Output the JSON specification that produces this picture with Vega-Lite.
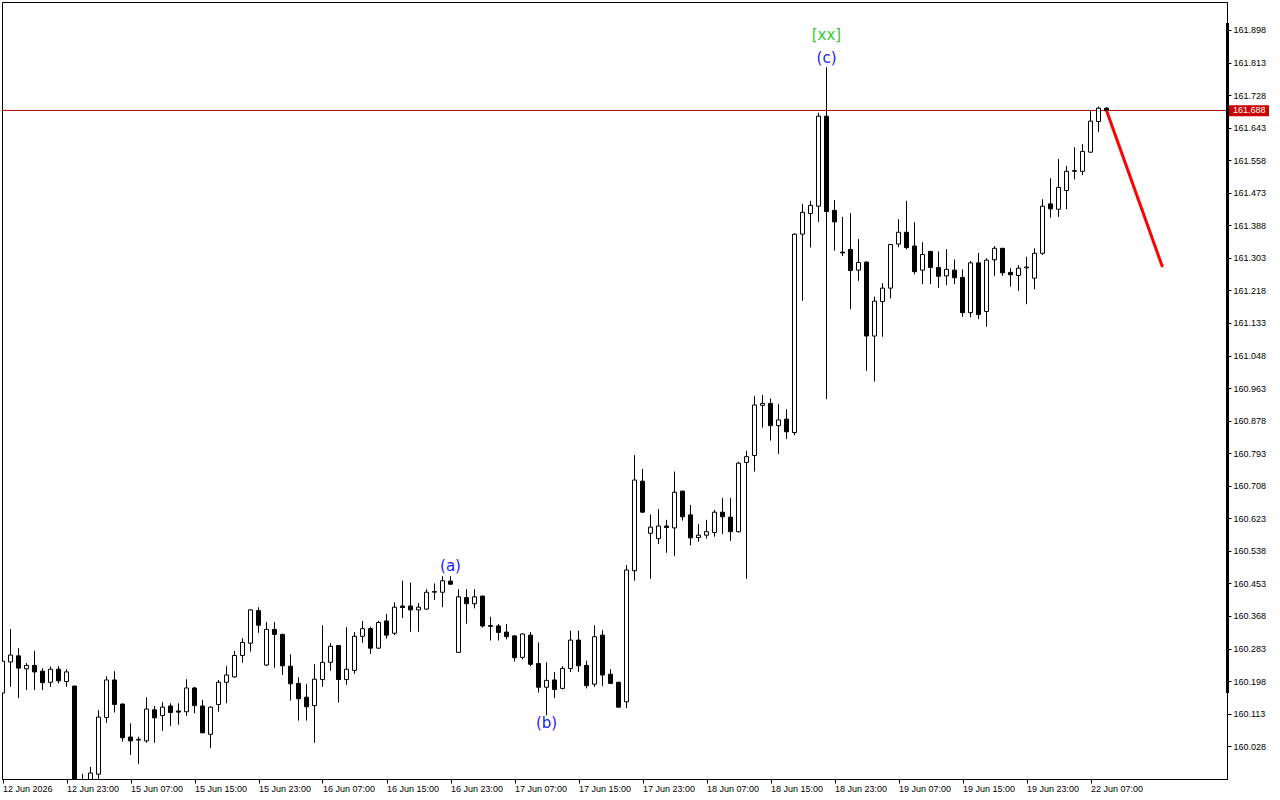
{
  "$schema": "https://vega.github.io/schema/vega-lite/v6.json",
  "width": 1225,
  "height": 777,
  "autosize": {"type": "none"},
  "padding": {"left": 2, "top": 2, "right": 53, "bottom": 21},
  "background": "white",
  "config": {
    "view": {"stroke": "black", "strokeWidth": 1},
    "axis": {"labelFont": "Liberation Sans", "labelFontSize": 9, "labelColor": "black", "tickColor": "black", "domainColor": "black", "grid": false, "labelOverlap": false, "labelFlush": false, "labelBound": false}
  },
  "datasets": {
    "bars": [
      {"i":0,"o":160.167,"h":160.252,"l":160.165,"c":160.250},
      {"i":1,"o":160.248,"h":160.334,"l":160.183,"c":160.266},
      {"i":2,"o":160.264,"h":160.284,"l":160.154,"c":160.232},
      {"i":3,"o":160.230,"h":160.245,"l":160.175,"c":160.239},
      {"i":4,"o":160.239,"h":160.277,"l":160.175,"c":160.222},
      {"i":5,"o":160.224,"h":160.232,"l":160.175,"c":160.194},
      {"i":6,"o":160.195,"h":160.236,"l":160.183,"c":160.229},
      {"i":7,"o":160.229,"h":160.237,"l":160.192,"c":160.199},
      {"i":8,"o":160.197,"h":160.229,"l":160.183,"c":160.222},
      {"i":9,"o":160.185,"h":160.186,"l":159.905,"c":159.915},
      {"i":10,"o":159.918,"h":159.956,"l":159.895,"c":159.925},
      {"i":11,"o":159.935,"h":159.974,"l":159.920,"c":159.958},
      {"i":12,"o":159.955,"h":160.122,"l":159.930,"c":160.104},
      {"i":13,"o":160.103,"h":160.211,"l":160.089,"c":160.201},
      {"i":14,"o":160.201,"h":160.224,"l":160.116,"c":160.137},
      {"i":15,"o":160.138,"h":160.140,"l":160.040,"c":160.050},
      {"i":16,"o":160.052,"h":160.088,"l":160.005,"c":160.042},
      {"i":17,"o":160.044,"h":160.053,"l":159.982,"c":160.046},
      {"i":18,"o":160.042,"h":160.156,"l":160.037,"c":160.125},
      {"i":19,"o":160.123,"h":160.133,"l":160.037,"c":160.102},
      {"i":20,"o":160.108,"h":160.143,"l":160.068,"c":160.130},
      {"i":21,"o":160.133,"h":160.140,"l":160.081,"c":160.116},
      {"i":22,"o":160.120,"h":160.140,"l":160.084,"c":160.117},
      {"i":23,"o":160.118,"h":160.203,"l":160.107,"c":160.180},
      {"i":24,"o":160.180,"h":160.183,"l":160.114,"c":160.134},
      {"i":25,"o":160.133,"h":160.149,"l":160.062,"c":160.063},
      {"i":26,"o":160.059,"h":160.132,"l":160.023,"c":160.130},
      {"i":27,"o":160.137,"h":160.201,"l":160.118,"c":160.195},
      {"i":28,"o":160.195,"h":160.237,"l":160.140,"c":160.214},
      {"i":29,"o":160.209,"h":160.277,"l":160.207,"c":160.265},
      {"i":30,"o":160.265,"h":160.310,"l":160.246,"c":160.299},
      {"i":31,"o":160.297,"h":160.386,"l":160.275,"c":160.384},
      {"i":32,"o":160.382,"h":160.391,"l":160.324,"c":160.344},
      {"i":33,"o":160.240,"h":160.352,"l":160.237,"c":160.333},
      {"i":34,"o":160.333,"h":160.352,"l":160.233,"c":160.320},
      {"i":35,"o":160.320,"h":160.322,"l":160.214,"c":160.238},
      {"i":36,"o":160.237,"h":160.268,"l":160.147,"c":160.191},
      {"i":37,"o":160.192,"h":160.208,"l":160.095,"c":160.152},
      {"i":38,"o":160.156,"h":160.190,"l":160.095,"c":160.131},
      {"i":39,"o":160.134,"h":160.242,"l":160.037,"c":160.203},
      {"i":40,"o":160.202,"h":160.344,"l":160.183,"c":160.247},
      {"i":41,"o":160.247,"h":160.297,"l":160.225,"c":160.289},
      {"i":42,"o":160.291,"h":160.292,"l":160.142,"c":160.202},
      {"i":43,"o":160.202,"h":160.339,"l":160.188,"c":160.229},
      {"i":44,"o":160.226,"h":160.326,"l":160.217,"c":160.315},
      {"i":45,"o":160.315,"h":160.355,"l":160.298,"c":160.335},
      {"i":46,"o":160.335,"h":160.340,"l":160.269,"c":160.284},
      {"i":47,"o":160.284,"h":160.355,"l":160.282,"c":160.351},
      {"i":48,"o":160.355,"h":160.373,"l":160.309,"c":160.318},
      {"i":49,"o":160.323,"h":160.404,"l":160.318,"c":160.391},
      {"i":50,"o":160.394,"h":160.460,"l":160.363,"c":160.390},
      {"i":51,"o":160.394,"h":160.455,"l":160.327,"c":160.384},
      {"i":52,"o":160.384,"h":160.402,"l":160.327,"c":160.391},
      {"i":53,"o":160.386,"h":160.438,"l":160.384,"c":160.430},
      {"i":54,"o":160.430,"h":160.453,"l":160.410,"c":160.432},
      {"i":55,"o":160.430,"h":160.472,"l":160.391,"c":160.460},
      {"i":56,"o":160.459,"h":160.472,"l":160.450,"c":160.451},
      {"i":57,"o":160.273,"h":160.438,"l":160.272,"c":160.418},
      {"i":58,"o":160.416,"h":160.438,"l":160.348,"c":160.400},
      {"i":59,"o":160.400,"h":160.438,"l":160.388,"c":160.418},
      {"i":60,"o":160.420,"h":160.421,"l":160.338,"c":160.342},
      {"i":61,"o":160.343,"h":160.366,"l":160.304,"c":160.341},
      {"i":62,"o":160.342,"h":160.347,"l":160.304,"c":160.325},
      {"i":63,"o":160.326,"h":160.347,"l":160.307,"c":160.314},
      {"i":64,"o":160.316,"h":160.318,"l":160.249,"c":160.259},
      {"i":65,"o":160.260,"h":160.323,"l":160.255,"c":160.321},
      {"i":66,"o":160.318,"h":160.326,"l":160.237,"c":160.242},
      {"i":67,"o":160.244,"h":160.299,"l":160.168,"c":160.182},
      {"i":68,"o":160.182,"h":160.247,"l":160.109,"c":160.200},
      {"i":69,"o":160.201,"h":160.222,"l":160.154,"c":160.176},
      {"i":70,"o":160.179,"h":160.237,"l":160.176,"c":160.231},
      {"i":71,"o":160.231,"h":160.330,"l":160.222,"c":160.305},
      {"i":72,"o":160.305,"h":160.330,"l":160.222,"c":160.238},
      {"i":73,"o":160.239,"h":160.251,"l":160.179,"c":160.186},
      {"i":74,"o":160.190,"h":160.344,"l":160.183,"c":160.314},
      {"i":75,"o":160.318,"h":160.331,"l":160.185,"c":160.214},
      {"i":76,"o":160.216,"h":160.229,"l":160.191,"c":160.192},
      {"i":77,"o":160.195,"h":160.196,"l":160.129,"c":160.130},
      {"i":78,"o":160.144,"h":160.501,"l":160.127,"c":160.488},
      {"i":79,"o":160.486,"h":160.788,"l":160.460,"c":160.723},
      {"i":80,"o":160.720,"h":160.752,"l":160.638,"c":160.639},
      {"i":81,"o":160.584,"h":160.633,"l":160.465,"c":160.600},
      {"i":82,"o":160.570,"h":160.647,"l":160.556,"c":160.603},
      {"i":83,"o":160.603,"h":160.619,"l":160.533,"c":160.599},
      {"i":84,"o":160.598,"h":160.745,"l":160.525,"c":160.691},
      {"i":85,"o":160.694,"h":160.695,"l":160.617,"c":160.627},
      {"i":86,"o":160.632,"h":160.658,"l":160.552,"c":160.572},
      {"i":87,"o":160.573,"h":160.608,"l":160.562,"c":160.579},
      {"i":88,"o":160.579,"h":160.619,"l":160.570,"c":160.588},
      {"i":89,"o":160.586,"h":160.645,"l":160.575,"c":160.639},
      {"i":90,"o":160.639,"h":160.676,"l":160.582,"c":160.627},
      {"i":91,"o":160.626,"h":160.676,"l":160.564,"c":160.588},
      {"i":92,"o":160.588,"h":160.771,"l":160.586,"c":160.767},
      {"i":93,"o":160.769,"h":160.799,"l":160.465,"c":160.784},
      {"i":94,"o":160.787,"h":160.942,"l":160.745,"c":160.919},
      {"i":95,"o":160.918,"h":160.945,"l":160.860,"c":160.923},
      {"i":96,"o":160.923,"h":160.936,"l":160.826,"c":160.865},
      {"i":97,"o":160.865,"h":160.921,"l":160.791,"c":160.880},
      {"i":98,"o":160.882,"h":160.908,"l":160.830,"c":160.849},
      {"i":99,"o":160.847,"h":161.367,"l":160.840,"c":161.365},
      {"i":100,"o":161.365,"h":161.444,"l":161.191,"c":161.422},
      {"i":101,"o":161.419,"h":161.452,"l":161.330,"c":161.440},
      {"i":102,"o":161.438,"h":161.682,"l":161.397,"c":161.673},
      {"i":103,"o":161.673,"h":161.801,"l":160.934,"c":161.424},
      {"i":104,"o":161.427,"h":161.454,"l":161.322,"c":161.397},
      {"i":105,"o":161.318,"h":161.410,"l":161.308,"c":161.316},
      {"i":106,"o":161.325,"h":161.420,"l":161.169,"c":161.270},
      {"i":107,"o":161.271,"h":161.352,"l":161.243,"c":161.291},
      {"i":108,"o":161.292,"h":161.294,"l":161.008,"c":161.099},
      {"i":109,"o":161.099,"h":161.202,"l":160.980,"c":161.190},
      {"i":110,"o":161.189,"h":161.237,"l":161.097,"c":161.224},
      {"i":111,"o":161.224,"h":161.339,"l":161.197,"c":161.338},
      {"i":112,"o":161.339,"h":161.404,"l":161.331,"c":161.370},
      {"i":113,"o":161.370,"h":161.452,"l":161.325,"c":161.330},
      {"i":114,"o":161.334,"h":161.396,"l":161.260,"c":161.267},
      {"i":115,"o":161.271,"h":161.344,"l":161.234,"c":161.312},
      {"i":116,"o":161.320,"h":161.321,"l":161.234,"c":161.278},
      {"i":117,"o":161.278,"h":161.320,"l":161.225,"c":161.255},
      {"i":118,"o":161.256,"h":161.326,"l":161.232,"c":161.273},
      {"i":119,"o":161.271,"h":161.299,"l":161.234,"c":161.251},
      {"i":120,"o":161.252,"h":161.273,"l":161.149,"c":161.160},
      {"i":121,"o":161.160,"h":161.295,"l":161.148,"c":161.290},
      {"i":122,"o":161.290,"h":161.316,"l":161.143,"c":161.155},
      {"i":123,"o":161.163,"h":161.302,"l":161.123,"c":161.297},
      {"i":124,"o":161.298,"h":161.334,"l":161.256,"c":161.328},
      {"i":125,"o":161.328,"h":161.329,"l":161.256,"c":161.264},
      {"i":126,"o":161.265,"h":161.276,"l":161.228,"c":161.259},
      {"i":127,"o":161.257,"h":161.284,"l":161.217,"c":161.276},
      {"i":128,"o":161.277,"h":161.306,"l":161.182,"c":161.279},
      {"i":129,"o":161.250,"h":161.328,"l":161.221,"c":161.315},
      {"i":130,"o":161.315,"h":161.456,"l":161.311,"c":161.438},
      {"i":131,"o":161.444,"h":161.511,"l":161.408,"c":161.431},
      {"i":132,"o":161.430,"h":161.561,"l":161.410,"c":161.487},
      {"i":133,"o":161.479,"h":161.543,"l":161.430,"c":161.529},
      {"i":134,"o":161.529,"h":161.592,"l":161.508,"c":161.531},
      {"i":135,"o":161.529,"h":161.600,"l":161.519,"c":161.581},
      {"i":136,"o":161.579,"h":161.686,"l":161.578,"c":161.660},
      {"i":137,"o":161.659,"h":161.698,"l":161.632,"c":161.694},
      {"i":138,"o":161.694,"h":161.696,"l":161.687,"c":161.688}
    ],
    "labels": [
      {"i":56,"p":160.498,"txt":"(a)","kind":"wave"},
      {"i":68,"p":160.089,"txt":"(b)","kind":"wave"},
      {"i":103,"p":161.825,"txt":"(c)","kind":"wave"},
      {"i":103,"p":161.885,"txt":"[xx]","kind":"degree"}
    ],
    "proj": [
      {"i":138,"p":161.688},
      {"i":145,"p":161.279}
    ],
    "last": [{"price":161.688,"txt":"161.688"}]
  },
  "layer": [
    {
      "data": {"name": "bars"},
      "mark": {"type": "rule", "color": "black", "strokeWidth": 1, "clip": true},
      "encoding": {
        "x": {"field": "i", "type": "quantitative", "title": null,
              "scale": {"domain": [-0.0625, 153.0625], "nice": false, "zero": false, "padding": 0},
              "axis": {"orient": "bottom", "values": [0,8,16,24,32,40,48,56,64,72,80,88,96,104,112,120,128,136], "tickCount": 60,
                       "labelExpr": "['12 Jun 2026','12 Jun 23:00','15 Jun 07:00','15 Jun 15:00','15 Jun 23:00','16 Jun 07:00','16 Jun 15:00','16 Jun 23:00','17 Jun 07:00','17 Jun 15:00','17 Jun 23:00','18 Jun 07:00','18 Jun 15:00','18 Jun 23:00','19 Jun 07:00','19 Jun 15:00','19 Jun 23:00','22 Jun 07:00'][round(datum.value/8)]",
                       "labelAlign": "left", "labelBaseline": "top", "labelPadding": 1, "tickSize": 4, "labelFlush": false, "labelOverlap": false, "domain": true}},
        "y": {"field": "l", "type": "quantitative", "title": null,
              "scale": {"domain": [159.9424, 161.9711], "nice": false, "zero": false, "padding": 0},
              "axis": {"orient": "right", "values": [161.898,161.813,161.728,161.643,161.558,161.473,161.388,161.303,161.218,161.133,161.048,160.963,160.878,160.793,160.708,160.623,160.538,160.453,160.368,160.283,160.198,160.113,160.028], "tickCount": 60,
                       "format": ".3f", "tickSize": 4, "labelPadding": 2, "labelFlush": false, "labelOverlap": false, "labelBound": false, "domain": true}},
        "y2": {"field": "h"}
      }
    },
    {
      "data": {"name": "last"},
      "mark": {"type": "rule", "color": "#b00000", "strokeWidth": 1},
      "encoding": {
        "y": {"field": "price", "type": "quantitative", "title": null, "scale": {"domain": [159.9424, 161.9711], "nice": false, "zero": false, "padding": 0}}
      }
    },
    {
      "data": {"name": "bars"},
      "mark": {"type": "bar", "width": 4, "stroke": "black", "strokeWidth": 1, "clip": true, "opacity": 1},
      "encoding": {
        "x": {"field": "i", "type": "quantitative", "title": null, "scale": {"domain": [-0.0625, 153.0625], "nice": false, "zero": false, "padding": 0}},
        "y": {"field": "o", "type": "quantitative", "title": null, "scale": {"domain": [159.9424, 161.9711], "nice": false, "zero": false, "padding": 0}},
        "y2": {"field": "c"},
        "fill": {"condition": {"test": "datum.c >= datum.o", "value": "white"}, "value": "black"}
      }
    },
    {
      "data": {"name": "proj"},
      "mark": {"type": "line", "color": "#ff0000", "strokeWidth": 3, "clip": true},
      "encoding": {
        "x": {"field": "i", "type": "quantitative", "title": null, "scale": {"domain": [-0.0625, 153.0625], "nice": false, "zero": false, "padding": 0}},
        "y": {"field": "p", "type": "quantitative", "title": null, "scale": {"domain": [159.9424, 161.9711], "nice": false, "zero": false, "padding": 0}}
      }
    },
    {
      "data": {"name": "labels"},
      "mark": {"type": "text", "font": "DejaVu Sans", "fontSize": 15, "align": "center", "baseline": "middle"},
      "encoding": {
        "x": {"field": "i", "type": "quantitative", "title": null, "scale": {"domain": [-0.0625, 153.0625], "nice": false, "zero": false, "padding": 0}},
        "y": {"field": "p", "type": "quantitative", "title": null, "scale": {"domain": [159.9424, 161.9711], "nice": false, "zero": false, "padding": 0}},
        "text": {"field": "txt"},
        "color": {"field": "kind", "type": "nominal", "scale": {"domain": ["wave", "degree"], "range": ["#2020ff", "#32cd32"]}, "legend": null}
      }
    },
    {
      "data": {"name": "last"},
      "mark": {"type": "rule", "color": "black", "strokeWidth": 3, "clip": false},
      "encoding": {
        "x": {"datum": 153.125, "type": "quantitative", "title": null, "scale": {"domain": [-0.0625, 153.0625], "nice": false, "zero": false, "padding": 0}},
        "y": {"datum": 161.916, "type": "quantitative", "title": null, "scale": {"domain": [159.9424, 161.9711], "nice": false, "zero": false, "padding": 0}},
        "y2": {"datum": 160.167}
      }
    },
    {
      "data": {"name": "last"},
      "mark": {"type": "rect", "color": "#cc0000", "clip": false},
      "encoding": {
        "x": {"datum": 153.31, "type": "quantitative", "title": null, "scale": {"domain": [-0.0625, 153.0625], "nice": false, "zero": false, "padding": 0}},
        "x2": {"datum": 158.31},
        "y": {"datum": 161.7015, "type": "quantitative", "title": null, "scale": {"domain": [159.9424, 161.9711], "nice": false, "zero": false, "padding": 0}},
        "y2": {"datum": 161.6725}
      }
    },
    {
      "data": {"name": "last"},
      "mark": {"type": "text", "color": "white", "font": "Liberation Sans", "fontSize": 9, "align": "left", "baseline": "middle", "dx": 4, "clip": false},
      "encoding": {
        "x": {"datum": 153.31, "type": "quantitative", "title": null, "scale": {"domain": [-0.0625, 153.0625], "nice": false, "zero": false, "padding": 0}},
        "y": {"field": "price", "type": "quantitative", "title": null, "scale": {"domain": [159.9424, 161.9711], "nice": false, "zero": false, "padding": 0}},
        "text": {"field": "txt"}
      }
    }
  ]
}
